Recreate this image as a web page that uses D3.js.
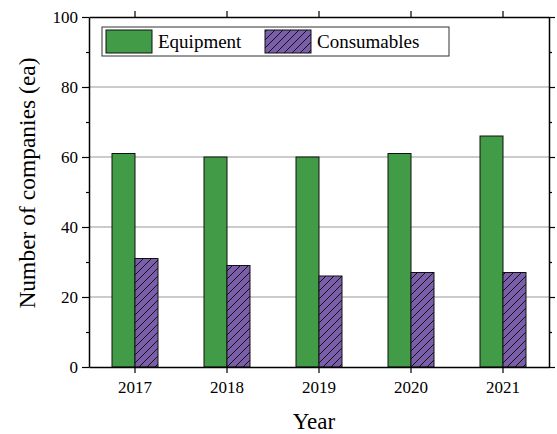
<!DOCTYPE html>
<html>
<head>
<meta charset="utf-8">
<script src="https://cdn.jsdelivr.net/npm/d3@7"></script>
<style>
  body { margin: 0; background: #fff; }
  svg { display: block; font-family: "Liberation Serif", "Times New Roman", serif; }
</style>
</head>
<body>
<div id="chart"></div>
<script>
const years = ['2017', '2018', '2019', '2020', '2021'];
const equipment = [61, 60, 60, 61, 66];
const consumables = [31, 29, 26, 27, 27];
const seriesNames = ['Equipment', 'Consumables'];
const yTicks = [0, 20, 40, 60, 80, 100];

const width = 557, height = 434;
const margin = { top: 17, right: 8, bottom: 67, left: 89 };
const innerW = width - margin.left - margin.right;
const innerH = height - margin.top - margin.bottom;

const green = '#429b46';
const purple = '#7b5eaa';

const svg = d3.select('#chart').append('svg')
  .attr('width', width).attr('height', height);

// hatch for consumables
const defs = svg.append('defs');
const pat = defs.append('pattern').attr('id', 'hatch')
  .attr('patternUnits', 'userSpaceOnUse').attr('width', 8).attr('height', 8);
pat.append('rect').attr('width', 8).attr('height', 8).attr('fill', purple);
pat.append('path').attr('d', 'M0,8 L8,0 M-1,1 L1,-1 M7,9 L9,7')
  .attr('stroke', '#111').attr('stroke-width', 1);

const g = svg.append('g').attr('transform', `translate(${margin.left},${margin.top})`);

const x = d3.scaleBand().domain(years).range([0, innerW]);
const bw = x.bandwidth() * 0.25;
const y = d3.scaleLinear().domain([0, 100]).range([innerH, 0]);

// grid
g.append('g').selectAll('line').data([20, 40, 60, 80]).join('line')
  .attr('x1', 0).attr('x2', innerW)
  .attr('y1', d => y(d)).attr('y2', d => y(d))
  .attr('stroke', '#999').attr('stroke-width', 1);

// bars
const data = years.map((yr, i) => ({ yr, eq: equipment[i], co: consumables[i] }));
g.append('g').selectAll('rect').data(data).join('rect')
  .attr('x', d => x(d.yr) + x.bandwidth() / 2 - bw)
  .attr('y', d => y(d.eq))
  .attr('width', bw).attr('height', d => innerH - y(d.eq))
  .attr('fill', green).attr('stroke', '#111').attr('stroke-width', 1);
g.append('g').selectAll('rect').data(data).join('rect')
  .attr('x', d => x(d.yr) + x.bandwidth() / 2)
  .attr('y', d => y(d.co))
  .attr('width', bw).attr('height', d => innerH - y(d.co))
  .attr('fill', 'url(#hatch)').attr('stroke', '#111').attr('stroke-width', 1);

// axes
const minor = d3.range(10, 100, 20);
const styleAxis = sel => {
  sel.select('.domain').attr('stroke', '#000').attr('stroke-width', 1.5);
  sel.selectAll('.tick line').attr('stroke', '#000').attr('stroke-width', 1.2);
  sel.selectAll('text').attr('font-size', 17).attr('fill', '#000')
    .attr('font-family', '"Liberation Serif", serif');
};
g.append('g').attr('transform', `translate(0,${innerH})`)
  .call(d3.axisBottom(x).tickSize(6).tickSizeOuter(0).tickPadding(8))
  .call(styleAxis);
g.append('g')
  .call(d3.axisTop(x).tickSize(6).tickSizeOuter(0).tickFormat(''))
  .call(styleAxis);
g.append('g')
  .call(d3.axisLeft(y).tickValues(yTicks).tickSize(7).tickSizeOuter(0).tickPadding(4))
  .call(styleAxis);
g.append('g')
  .call(d3.axisLeft(y).tickValues(minor).tickSize(3).tickFormat(''))
  .call(s => s.select('.domain').remove())
  .selectAll('line').attr('stroke', '#000').attr('stroke-width', 1.2);
g.append('g').attr('transform', `translate(${innerW},0)`)
  .call(d3.axisRight(y).tickValues(yTicks).tickSize(6).tickSizeOuter(0).tickFormat(''))
  .call(styleAxis);
g.append('g').attr('transform', `translate(${innerW},0)`)
  .call(d3.axisRight(y).tickValues(minor).tickSize(3).tickFormat(''))
  .call(s => s.select('.domain').remove())
  .selectAll('line').attr('stroke', '#000').attr('stroke-width', 1.2);

// axis titles
svg.append('text').attr('x', 314).attr('y', 429)
  .attr('text-anchor', 'middle').attr('font-size', 23).text('Year');
svg.append('text').attr('transform', 'translate(35,183) rotate(-90)')
  .attr('text-anchor', 'middle').attr('font-size', 23.5).text('Number of companies (ea)');

// legend
const lg = svg.append('g').attr('transform', 'translate(102,27)');
lg.append('rect').attr('width', 347).attr('height', 29)
  .attr('fill', '#fff').attr('stroke', '#333').attr('stroke-width', 1);
const legItems = [
  { name: seriesNames[0], fill: green, x: 4 },
  { name: seriesNames[1], fill: 'url(#hatch)', x: 163 }
];
legItems.forEach(it => {
  lg.append('rect').attr('x', it.x).attr('y', 3).attr('width', 46).attr('height', 23)
    .attr('fill', it.fill).attr('stroke', '#111').attr('stroke-width', 1);
  lg.append('text').attr('x', it.x + 52).attr('y', 21)
    .attr('font-size', 19).text(it.name);
});
</script>
</body>
</html>
